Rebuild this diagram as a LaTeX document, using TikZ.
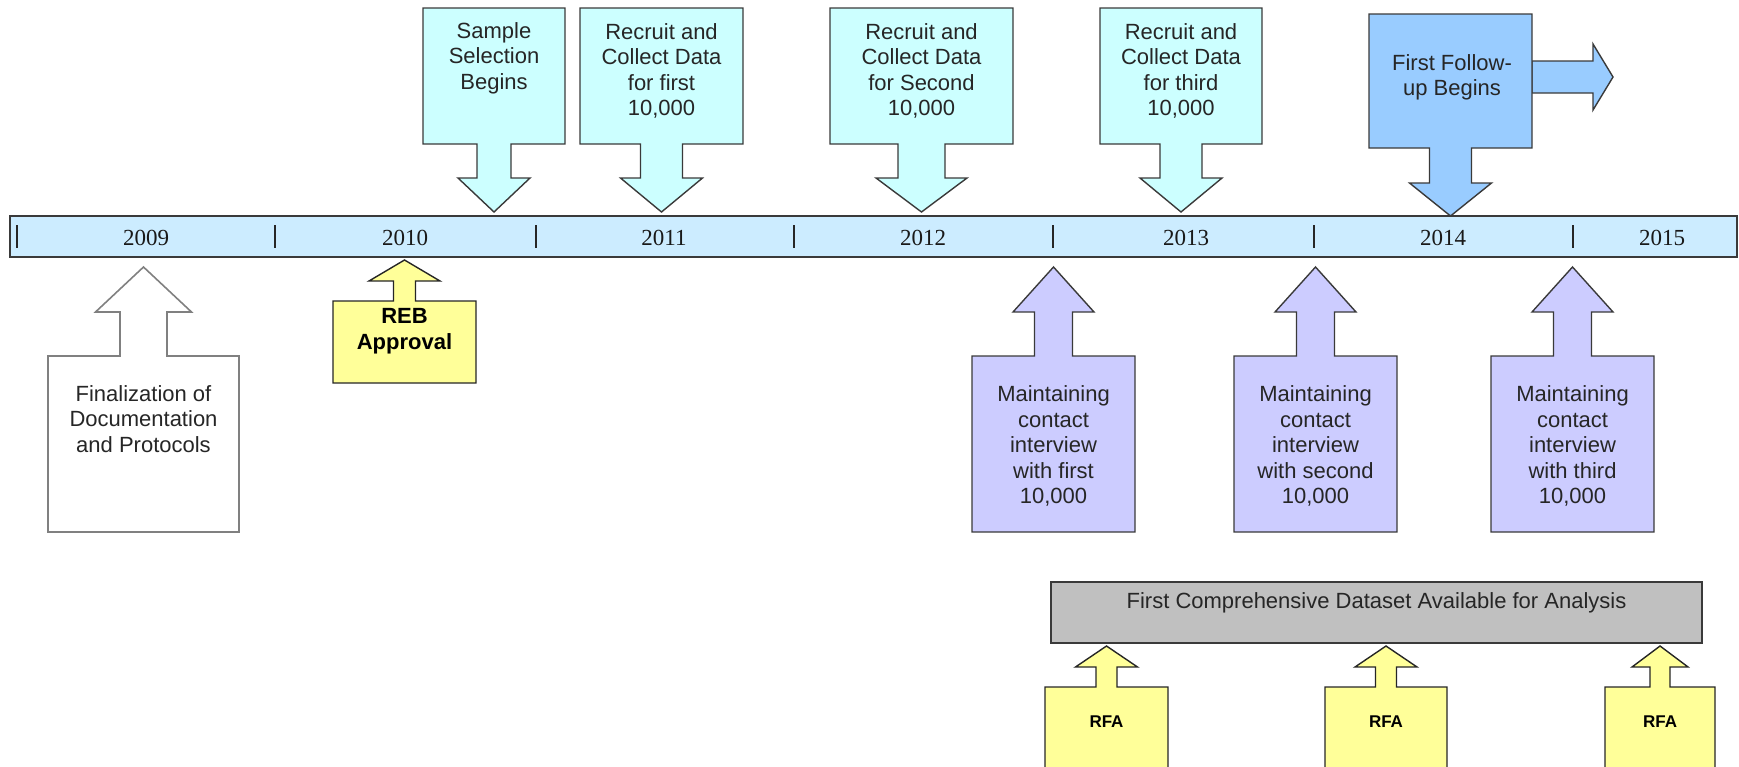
\documentclass[tikz,border=0pt]{standalone}
\usepackage{fontspec}
\setmainfont{Liberation Sans}
\newfontfamily\yearfont{Liberation Serif}
\definecolor{cyanfill}{HTML}{CCFFFF}
\definecolor{bluefill}{HTML}{99CCFF}
\definecolor{barfill}{HTML}{CCECFF}
\definecolor{purpfill}{HTML}{CCCCFF}
\definecolor{yelfill}{HTML}{FFFF99}
\definecolor{grayfill}{HTML}{C0C0C0}
\definecolor{edgedark}{HTML}{3A3A3A}
\definecolor{edgegray}{HTML}{808080}
\tikzset{
  shapeline/.style={line width=1.4pt, line join=miter, draw=edgedark},
  cyanbox/.style={shapeline, fill=cyanfill},
  bluebox/.style={shapeline, fill=bluefill},
  purpbox/.style={shapeline, fill=purpfill},
  yelbox/.style={shapeline, fill=yelfill, draw=black!85},
  whitebox/.style={line width=1.6pt, line join=miter, draw=edgegray, fill=white},
  graybox/.style={shapeline, fill=grayfill},
  barbox/.style={line width=1.6pt, draw=edgedark, fill=barfill},
  tickline/.style={line width=1.6pt, draw=black!85},
  lbl/.style={align=center, inner sep=0pt, text=black!85, font=\fontsize{22}{25.5}\selectfont},
  boldlbl/.style={align=center, inner sep=0pt, text=black, font=\bfseries\fontsize{22}{26}\selectfont},
  rfalbl/.style={align=center, inner sep=0pt, text=black, font=\bfseries\fontsize{17}{20}\selectfont},
  yr/.style={inner sep=0pt, text=black!90, font=\yearfont\fontsize{23}{26}\selectfont},
}
% down callout: #1 style, #2 xl, #3 xr, #4 ytop, #5 ybox bottom, #6 shaft half, #7 head half, #8 head base y, #9 tip y
\newcommand\dncall[9]{%
  \draw[#1] (#2,#4) -- (#3,#4) -- (#3,#5) -- ({(#2+#3)/2+#6},#5) -- ({(#2+#3)/2+#6},#8)
    -- ({(#2+#3)/2+#7},#8) -- ({(#2+#3)/2},#9) -- ({(#2+#3)/2-#7},#8) -- ({(#2+#3)/2-#6},#8)
    -- ({(#2+#3)/2-#6},#5) -- (#2,#5) -- cycle;}
% up callout: #1 style, #2 xl, #3 xr, #4 ybox top, #5 ybox bottom, #6 shaft half, #7 head half, #8 head base y, #9 tip y
\newcommand\upcall[9]{%
  \draw[#1] (#2,#5) -- (#2,#4) -- ({(#2+#3)/2-#6},#4) -- ({(#2+#3)/2-#6},#8)
    -- ({(#2+#3)/2-#7},#8) -- ({(#2+#3)/2},#9) -- ({(#2+#3)/2+#7},#8) -- ({(#2+#3)/2+#6},#8)
    -- ({(#2+#3)/2+#6},#4) -- (#3,#4) -- (#3,#5) -- cycle;}
\begin{document}
\begin{tikzpicture}[x=1pt,y=-1pt]
\useasboundingbox (0,0) rectangle (1739,766);
\clip (0,0) rectangle (1739,766);

% timeline bar
\draw[barbox] (10,216) rectangle (1737,257);
\foreach \tx in {17,275,536,794,1053,1314,1573}
  \draw[tickline] (\tx,225) -- (\tx,248);
\node[yr] (y2009) at (146,238) {2009};
\node[yr] (y2010) at (405,238) {2010};
\node[yr] (y2011) at (664,238) {2011};
\node[yr] (y2012) at (923,238) {2012};
\node[yr] (y2013) at (1186,238) {2013};
\node[yr] (y2014) at (1443,238) {2014};
\node[yr] (y2015) at (1662,238) {2015};

% top callouts
\dncall{cyanbox}{423}{565}{8}{144}{17}{36}{178}{212}
\node[lbl] (sample) at (494,58) {Sample\\Selection\\Begins};
\dncall{cyanbox}{580}{743}{8}{144}{21}{41}{178}{212}
\node[lbl] (rec1) at (661.5,71) {Recruit and\\Collect Data\\for first\\10,000};
\dncall{cyanbox}{830}{1013}{8}{144}{23.5}{45.5}{178}{212}
\node[lbl] (rec2) at (921.5,71) {Recruit and\\Collect Data\\for Second\\10,000};
\dncall{cyanbox}{1100}{1262}{8}{144}{21}{41}{178}{212}
\node[lbl] (rec3) at (1181,71) {Recruit and\\Collect Data\\for third\\10,000};

% follow-up with right arrow
\draw[bluebox] (1532,61) -- (1593,61) -- (1593,44) -- (1613,77) -- (1593,110) -- (1593,93) -- (1532,93) -- cycle;
\dncall{bluebox}{1369}{1532}{14}{148}{21}{41}{183}{216}
\node[lbl] (follow) at (1452,77.5) {First Follow-\\up Begins};

% bottom callouts
\upcall{whitebox}{48}{239}{356}{532}{23.5}{48}{312}{267}
\node[lbl] (final) at (143.5,419) {Finalization of\\Documentation\\and Protocols};
\upcall{yelbox}{333}{476}{301}{383}{11}{35.5}{281}{260}
\node[boldlbl] (reb) at (404.5,331) {REB\\Approval};

\upcall{purpbox}{972}{1135}{356}{532}{19}{40.5}{312}{267}
\node[lbl] (main1) at (1053.5,446) {Maintaining\\contact\\interview\\with first\\10,000};
\upcall{purpbox}{1234}{1397}{356}{532}{19}{40.5}{312}{267}
\node[lbl] (main2) at (1315.5,446) {Maintaining\\contact\\interview\\with second\\10,000};
\upcall{purpbox}{1491}{1654}{356}{532}{19}{40.5}{312}{267}
\node[lbl] (main3) at (1572.5,446) {Maintaining\\contact\\interview\\with third\\10,000};

% dataset box
\draw[graybox] (1051,582) rectangle (1702,643);
\node[lbl] (data) at (1376.5,603) {First Comprehensive Dataset Available for Analysis};

% RFA callouts
\upcall{yelbox}{1045}{1168}{687}{800}{10.5}{31}{667}{646}
\node[rfalbl] (rfa1) at (1106.5,722) {RFA};
\upcall{yelbox}{1325}{1447}{687}{800}{10.5}{31}{667}{646}
\node[rfalbl] (rfa2) at (1386,722) {RFA};
\upcall{yelbox}{1605}{1715}{687}{800}{10}{28}{667}{646}
\node[rfalbl] (rfa3) at (1660,722) {RFA};
\end{tikzpicture}
\end{document}
